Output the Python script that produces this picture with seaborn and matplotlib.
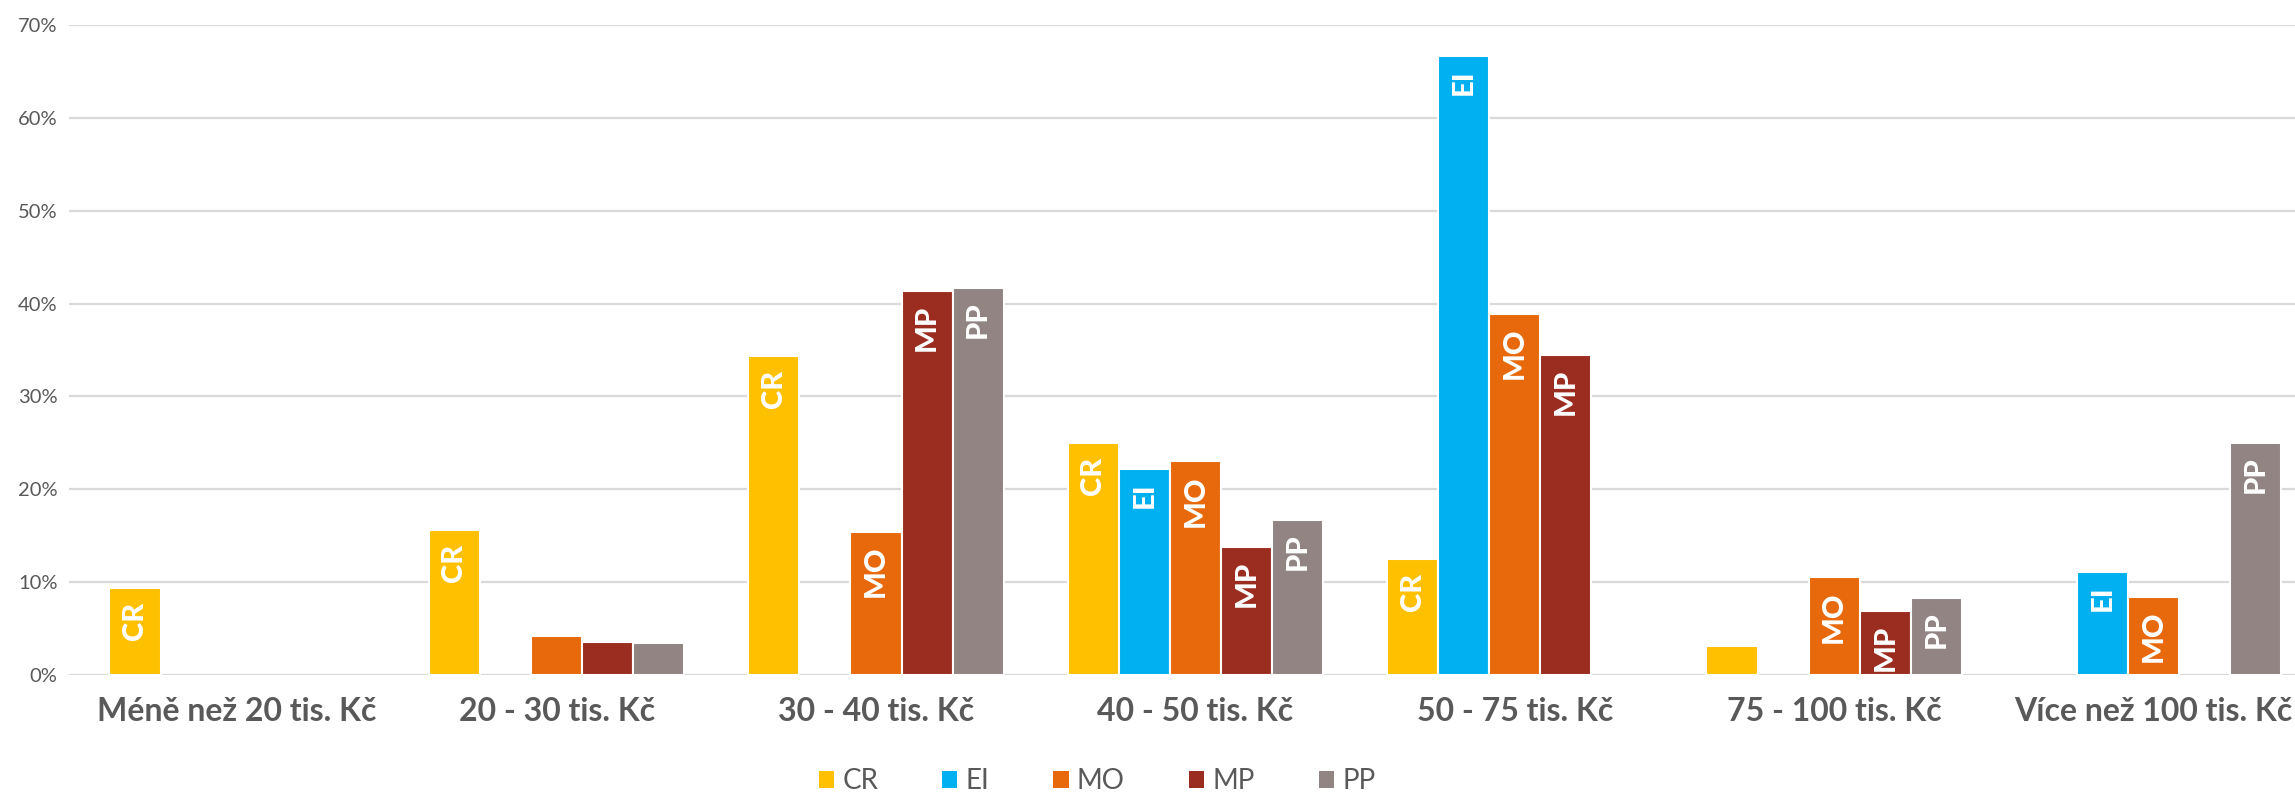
import matplotlib
matplotlib.use("Agg")
import matplotlib.pyplot as plt
import numpy as np
import pandas as pd
import seaborn as sns
from matplotlib.patches import Patch

categories = [
    "Méně než 20 tis. Kč",
    "20 - 30 tis. Kč",
    "30 - 40 tis. Kč",
    "40 - 50 tis. Kč",
    "50 - 75 tis. Kč",
    "75 - 100 tis. Kč",
    "Více než 100 tis. Kč",
]
series = ["CR", "EI", "MO", "MP", "PP"]
nan = np.nan
cr = [9.4, 15.6, 34.4, 25.0, 12.5, 3.1, nan]
ei = [nan, nan, nan, 22.2, 66.7, nan, 11.1]
mo = [nan, 4.2, 15.4, 23.0, 38.9, 10.5, 8.4]
mp = [nan, 3.5, 41.4, 13.8, 34.5, 6.9, nan]
pp = [nan, 3.4, 41.7, 16.7, nan, 8.3, 25.0]
colors = ["#FFC000", "#00B0F0", "#E8690C", "#9B2C20", "#918483"]
yticks = [0, 10, 20, 30, 40, 50, 60, 70]

sns.set_theme(style="white")
plt.rcParams["font.family"] = ["Lato", "DejaVu Sans"]

rows = []
for name, vals in zip(series, [cr, ei, mo, mp, pp]):
    for cat, v in zip(categories, vals):
        rows.append({"category": cat, "series": name, "value": v})
df = pd.DataFrame(rows)

fig = plt.figure(figsize=(22.95, 7.94), dpi=100)
# plot area runs a little past the right edge, like the original
ax = fig.add_axes([0.030, 0.150, 0.978, 0.8185])

sns.barplot(df, x="category", y="value", hue="series", hue_order=series,
            order=categories, palette=colors, width=0.8, saturation=1,
            edgecolor="white", linewidth=1.5, legend=False, ax=ax)

ax.set_ylim(0, 70)
ax.set_xlim(-0.527, 6.5)
ax.set_yticks(yticks)
ax.set_yticklabels([f"{t}%" for t in yticks], fontsize=14.5, color="#595959")
ax.tick_params(axis="y", length=0, pad=8)
ax.tick_params(axis="x", length=0, pad=16)
for lab in ax.get_xticklabels():
    lab.set_fontsize(23)
    lab.set_fontweight("bold")
    lab.set_color("#595959")
ax.set_xlabel("")
ax.set_ylabel("")
ax.grid(axis="y", color="#D9D9D9", linewidth=1.6)
ax.set_axisbelow(True)
sns.despine(ax=ax, left=True, bottom=True, top=True, right=True)
ax.axhline(0, color="#D9D9D9", linewidth=2, zorder=0.5)

# series names inside the bars, at the top end
for cont, name in zip(ax.containers, series):
    for bar in cont:
        h = bar.get_height()
        if np.isnan(h) or h < 5:
            continue
        ax.annotate(name, (bar.get_x() + bar.get_width() / 2, h),
                    xytext=(0, -10), textcoords="offset points",
                    rotation=90, ha="center", va="top",
                    fontsize=21, fontweight="black", color="white")

handles = [Patch(facecolor=c, edgecolor="none") for c in colors]
fig.legend(handles, series, loc="center", bbox_to_anchor=(0.478, 0.016),
           ncol=5, frameon=False, fontsize=20, handlelength=0.55,
           handleheight=0.55, handletextpad=0.3, columnspacing=2.3,
           labelcolor="#595959")

fig.savefig("out.png", dpi=100)
